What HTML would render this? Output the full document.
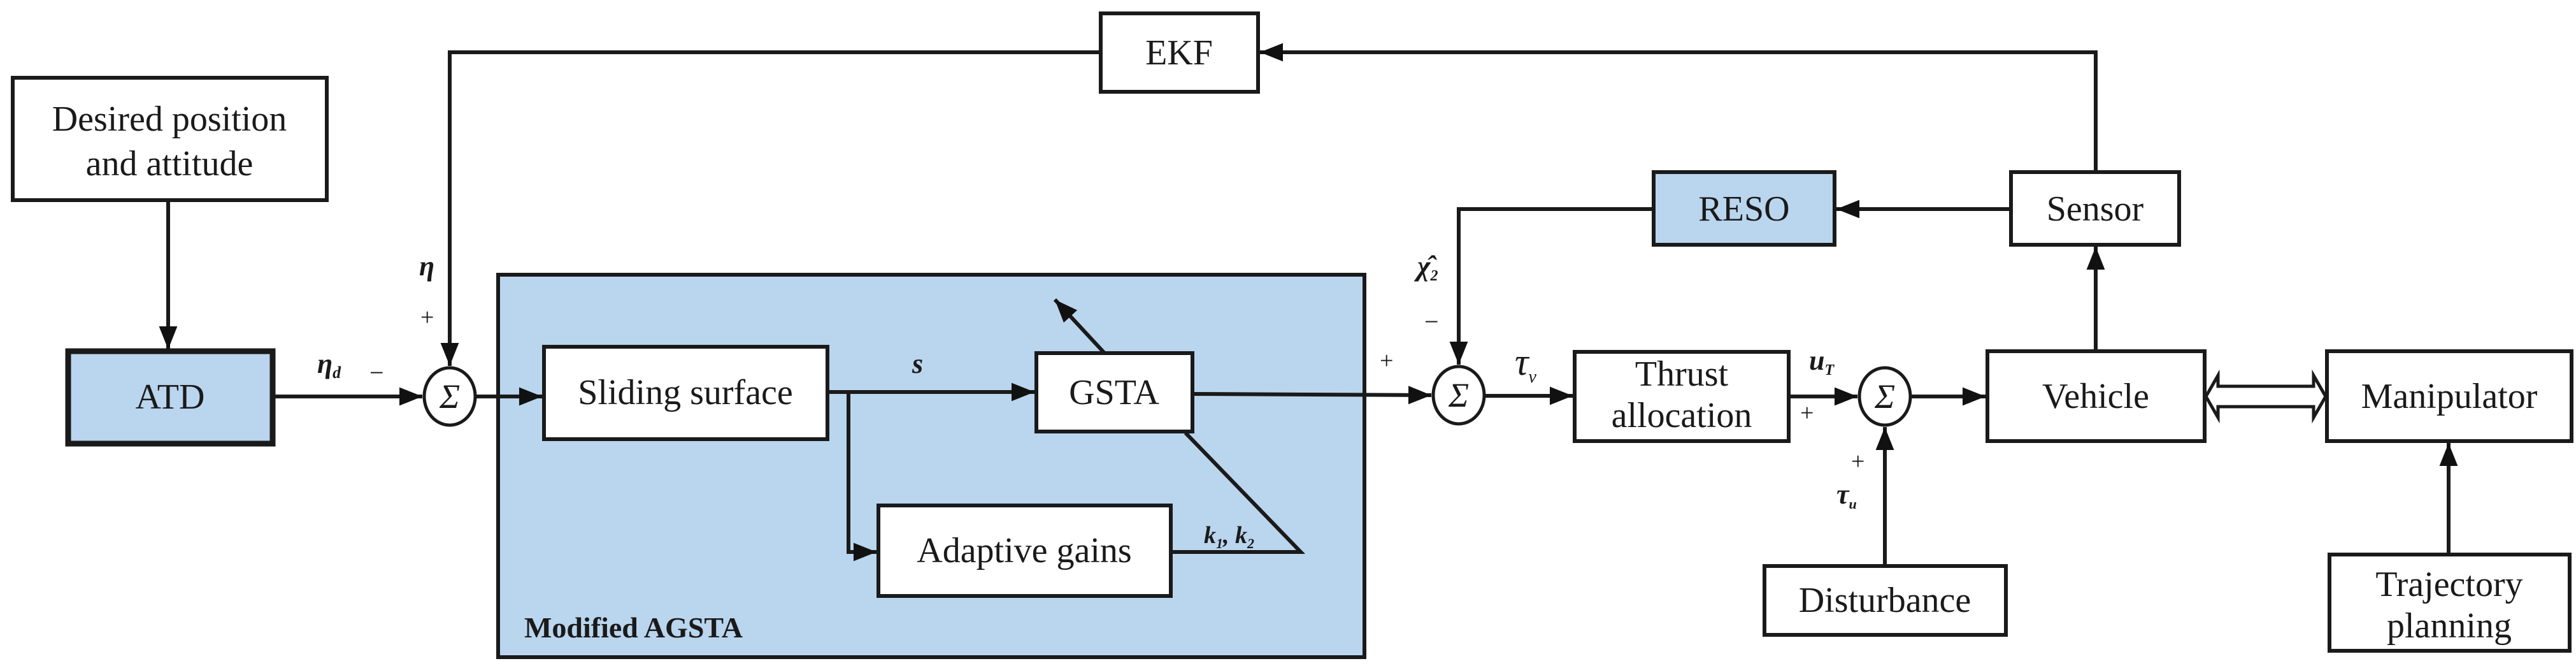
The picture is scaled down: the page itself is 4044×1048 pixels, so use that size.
<!DOCTYPE html>
<html><head><meta charset="utf-8"><style>
html,body{margin:0;padding:0;background:#fff}
svg{display:block}
text{font-family:"Liberation Serif","Times New Roman",serif;fill:#1a1a1a}
</style></head><body>
<svg width="4044" height="1048" viewBox="0 0 4044 1048" xmlns="http://www.w3.org/2000/svg" font-family="Liberation Serif, serif">
<defs>
<marker id="a" viewBox="0 0 10 10" refX="10" refY="5" markerWidth="7" markerHeight="6" markerUnits="strokeWidth" orient="auto"><path d="M0,1 L10,5 L0,9 Z" fill="#111"/></marker>
</defs>
<g stroke="#1a1a1a" stroke-width="6" fill="none">
<rect x="782" y="431" width="1360" height="600" fill="#bad5ee"/>
<rect x="20" y="122" width="493" height="192" fill="#fff"/>
<rect x="107" y="551" width="321" height="145" fill="#bad5ee" stroke-width="9"/>
<rect x="1728" y="21" width="247" height="123" fill="#fff"/>
<rect x="854" y="544" width="445" height="145" fill="#fff"/>
<rect x="1627" y="554" width="245" height="123" fill="#fff"/>
<rect x="1379" y="793" width="459" height="142" fill="#fff"/>
<rect x="2596" y="270" width="284" height="114" fill="#bad5ee"/>
<rect x="3157" y="270" width="264" height="114" fill="#fff"/>
<rect x="2472" y="552" width="336" height="140" fill="#fff"/>
<rect x="2770" y="888" width="379" height="108" fill="#fff"/>
<rect x="3120" y="551" width="341" height="141" fill="#fff"/>
<rect x="3653" y="551" width="384" height="141" fill="#fff"/>
<rect x="3657" y="870" width="377" height="151" fill="#fff"/>
<ellipse cx="706" cy="622" rx="40" ry="45" fill="#fff" stroke-width="5"/>
<ellipse cx="2290" cy="620" rx="40" ry="45" fill="#fff" stroke-width="5"/>
<ellipse cx="2959" cy="622" rx="40" ry="45" fill="#fff" stroke-width="5"/>
<line x1="264" y1="314" x2="264" y2="548" marker-end="url(#a)"/>
<line x1="428" y1="622" x2="663" y2="622" marker-end="url(#a)"/>
<line x1="746" y1="622" x2="851" y2="622" marker-end="url(#a)"/>
<polyline points="1728,82 706,82 706,574" marker-end="url(#a)"/>
<polyline points="3290,270 3290,82 1978,82" marker-end="url(#a)"/>
<line x1="1299" y1="615" x2="1624" y2="615" marker-end="url(#a)"/>
<polyline points="1332,615 1332,866 1376,866" marker-end="url(#a)"/>
<polyline points="1838,866 2042,866 1861,679"/>
<line x1="1734" y1="554" x2="1656" y2="470" marker-end="url(#a)"/>
<line x1="1872" y1="618" x2="2247" y2="620" marker-end="url(#a)"/>
<line x1="3157" y1="328" x2="2883" y2="328" marker-end="url(#a)"/>
<polyline points="2596,328 2290,328 2290,572" marker-end="url(#a)"/>
<line x1="2330" y1="621" x2="2469" y2="621" marker-end="url(#a)"/>
<line x1="2808" y1="622" x2="2916" y2="622" marker-end="url(#a)"/>
<line x1="2959" y1="888" x2="2959" y2="670" marker-end="url(#a)"/>
<line x1="2999" y1="622" x2="3117" y2="622" marker-end="url(#a)"/>
<line x1="3290" y1="551" x2="3290" y2="387" marker-end="url(#a)"/>
<line x1="3844" y1="870" x2="3844" y2="695" marker-end="url(#a)"/>
<path d="M3463,622 L3482,589 L3482,606 L3632,606 L3632,589 L3651,622 L3632,655 L3632,638 L3482,638 L3482,655 Z" fill="#fff" stroke-width="5"/>
</g>
<g font-size="56" text-anchor="middle">
<text x="266" y="205">Desired position</text>
<text x="266" y="275">and attitude</text>
<text x="267" y="641">ATD</text>
<text x="1851" y="101">EKF</text>
<text x="1076" y="634">Sliding surface</text>
<text x="1749" y="634">GSTA</text>
<text x="1608" y="882">Adaptive gains</text>
<text x="2738" y="346">RESO</text>
<text x="3289" y="346">Sensor</text>
<text x="2640" y="605">Thrust</text>
<text x="2640" y="670">allocation</text>
<text x="2959" y="960">Disturbance</text>
<text x="3290" y="640">Vehicle</text>
<text x="3845" y="640">Manipulator</text>
<text x="3845" y="935">Trajectory</text>
<text x="3845" y="1000">planning</text>
</g>
<text x="823" y="1000" font-size="46" font-weight="bold">Modified AGSTA</text>
<g font-style="italic" font-size="44">
<text x="658" y="432" font-weight="bold">η</text>
<text x="660" y="510" font-style="normal" font-size="38">+</text>
<text x="498" y="585" font-weight="bold">η<tspan font-size="26" dy="8">d</tspan></text>
<text x="580" y="598" font-style="normal" font-size="40">−</text>
<text x="706" y="640" text-anchor="middle" font-size="54">Σ</text>
<text x="2290" y="638" text-anchor="middle" font-size="54">Σ</text>
<text x="2959" y="640" text-anchor="middle" font-size="54">Σ</text>
<text x="1432" y="585" font-weight="bold">s</text>
<text x="1890" y="852" font-weight="bold" font-size="38">k<tspan font-size="22" dy="8">1</tspan><tspan dy="-8">, k</tspan><tspan font-size="22" dy="8">2</tspan></text>
<text x="2166" y="578" font-style="normal" font-size="38">+</text>
<text x="2225" y="432" font-weight="bold">χ̂<tspan font-size="24" dy="8">2</tspan></text>
<text x="2236" y="518" font-style="normal" font-size="40">−</text>
<text x="2378" y="588" font-size="60">τ<tspan font-size="28" dy="12">v</tspan></text>
<text x="2840" y="580" font-weight="bold">u<tspan font-size="24" dy="8">T</tspan></text>
<text x="2826" y="660" font-style="normal" font-size="38">+</text>
<text x="2906" y="736" font-style="normal" font-size="38">+</text>
<text x="2883" y="790" font-weight="bold">τ<tspan font-size="22" dy="8">u</tspan></text>
</g>
</svg>
</body></html>
